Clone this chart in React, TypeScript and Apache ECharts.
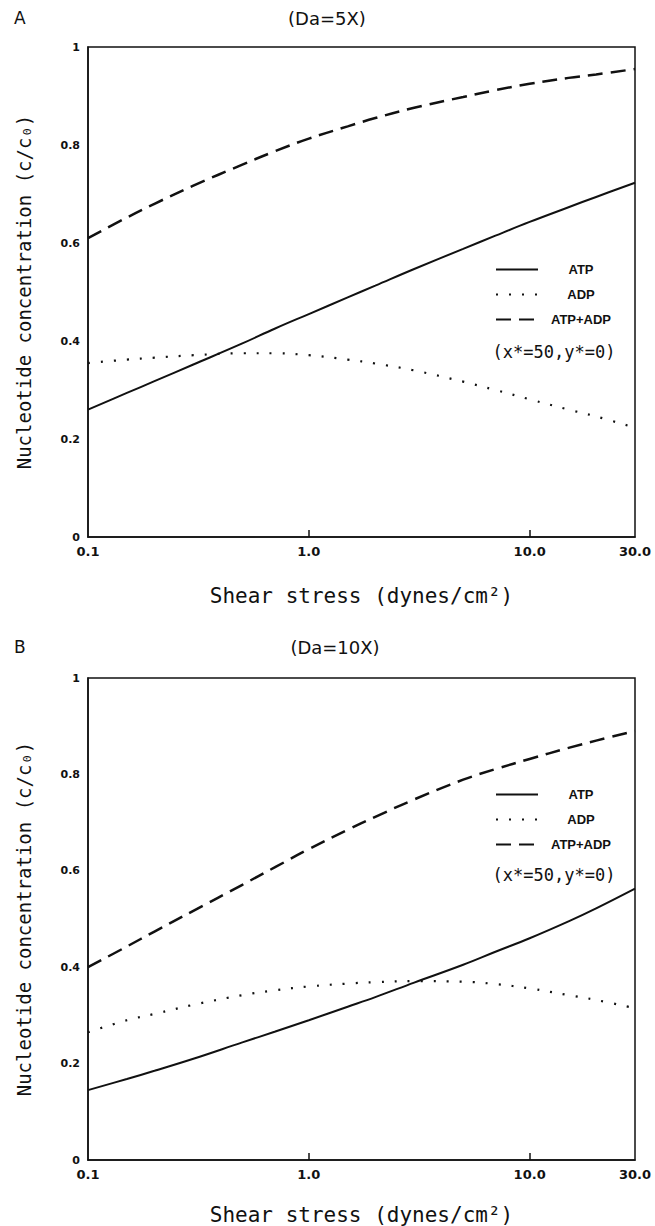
import React, { useEffect, useRef } from "react";
import * as echarts from "echarts";

const stress = [0.1, 0.15, 0.2, 0.3, 0.5, 0.7, 1, 1.5, 2, 3, 5, 7, 10, 15, 20, 30];

const atpA = [0.26, 0.294, 0.318, 0.352, 0.395, 0.425, 0.455, 0.489, 0.513, 0.547, 0.588, 0.615, 0.643, 0.673, 0.694, 0.723];
const adpA = [0.355, 0.362, 0.366, 0.371, 0.375, 0.375, 0.371, 0.362, 0.354, 0.34, 0.317, 0.3, 0.281, 0.26, 0.246, 0.223];
const sumA = [0.61, 0.652, 0.68, 0.717, 0.76, 0.787, 0.813, 0.838, 0.855, 0.876, 0.898, 0.912, 0.925, 0.937, 0.944, 0.955];

const atpB = [0.145, 0.168, 0.185, 0.21, 0.244, 0.266, 0.29, 0.318, 0.338, 0.368, 0.405, 0.432, 0.46, 0.495, 0.522, 0.563];
const adpB = [0.265, 0.29, 0.303, 0.322, 0.342, 0.352, 0.36, 0.366, 0.369, 0.371, 0.37, 0.365, 0.356, 0.342, 0.332, 0.315];
const sumB = [0.4, 0.443, 0.474, 0.517, 0.571, 0.607, 0.645, 0.685, 0.712, 0.748, 0.789, 0.811, 0.832, 0.855, 0.87, 0.89];

const xLabelValues = [0.1, 1, 10, 30];
const xTickValues = [1, 10];
const seriesNames = ["ATP", "ADP", "ATP+ADP"];
const panelTitles = ["(Da=5X)", "(Da=10X)"];
const panelLetters = ["A", "B"];
const xName = "Shear stress (dynes/cm²)";
const yName = "Nucleotide concentration (c/c₀)";
const note = "(x*=50,y*=0)";

const INK = "#111";
const FONT = "'DejaVu Sans', 'Liberation Sans', sans-serif";
const MONO = "'DejaVu Sans Mono', monospace";
const NARROW = "'Liberation Sans Narrow', 'Liberation Sans', sans-serif";

const lineStyles: any[] = [
  { type: "solid", width: 2 },
  { type: [2, 11], width: 2.2, cap: "butt" },
  { type: [15, 8], width: 2.5 },
];

export default function App() {
  const ref = useRef<HTMLDivElement>(null);
  useEffect(() => {
    document.body.style.margin = "0";
    const chart = echarts.init(ref.current!, null, { renderer: "svg" });
    const grids = [
      { left: 88, right: 20, top: 47, height: 490 },
      { left: 88, right: 20, top: 678, height: 483 },
    ];
    const xAxis = grids.map((_, i) => ({
      type: "log",
      logBase: 10,
      min: 0.1,
      max: 30,
      gridIndex: i,
      name: xName,
      nameLocation: "middle",
      nameGap: i === 0 ? 48 : 44,
      nameTextStyle: { fontFamily: MONO, fontSize: 21, color: INK },
      axisLine: { show: true, lineStyle: { color: INK, width: 1.5 } },
      axisTick: { show: true, inside: true, length: 7, customValues: xTickValues, lineStyle: { color: INK, width: 1.5 } },
      minorTick: { show: false },
      splitLine: { show: false },
      axisLabel: {
        customValues: xLabelValues,
        formatter: (v: number) => (v < 0.5 ? "0.1" : Number(v).toFixed(1)),
        color: INK,
        fontFamily: FONT,
        fontWeight: "bold",
        fontSize: 13,
        margin: 8,
      },
    }));
    const yAxis = grids.map((_, i) => ({
      type: "value",
      min: 0,
      max: 1,
      interval: 0.2,
      gridIndex: i,
      name: yName,
      nameLocation: "middle",
      nameGap: 55,
      nameRotate: 90,
      nameTextStyle: { fontFamily: MONO, fontSize: 19, color: INK },
      axisLine: { show: true, lineStyle: { color: INK, width: 1.5 } },
      axisTick: { show: false },
      splitLine: { show: false },
      axisLabel: {
        formatter: (v: number) => (v === 0 ? "0" : v === 1 ? "1" : v.toFixed(1)),
        color: INK,
        fontFamily: FONT,
        fontWeight: "bold",
        fontSize: 11,
        margin: 8,
      },
    }));
    const panels = [
      [atpA, adpA, sumA],
      [atpB, adpB, sumB],
    ];
    const series: any[] = [];
    panels.forEach((vals, p) => {
      vals.forEach((arr, k) => {
        series.push({
          type: "line",
          name: seriesNames[k],
          xAxisIndex: p,
          yAxisIndex: p,
          smooth: 0.4,
          symbol: "none",
          data: stress.map((x, j) => [x, arr[j]]),
          lineStyle: { color: INK, ...lineStyles[k] },
          itemStyle: { color: INK },
        });
      });
    });
    const legendTops = [263, 788];
    const legend = legendTops.map((top) => ({
      data: seriesNames,
      orient: "vertical",
      left: 495,
      top,
      padding: 0,
      itemWidth: 42,
      itemHeight: 12,
      itemGap: 12,
      selectedMode: false,
      itemStyle: { opacity: 0 },
      formatter: (name: string) => `{c|${name}}`,
      textStyle: {
        color: INK,
        rich: {
          c: { width: 76, align: "center", fontFamily: NARROW, fontWeight: "bold", fontSize: 13, color: INK },
        },
      },
    }));
    const titleYs = [18, 647];
    const noteYs = [352, 875];
    const graphic: any[] = [];
    titleYs.forEach((y, i) => {
      graphic.push({ type: "text", left: 14, top: y - 9, style: { text: panelLetters[i], fill: INK, font: `17px ${FONT}` } });
      graphic.push({ type: "text", x: i === 0 ? 327 : 335, y, style: { text: panelTitles[i], fill: INK, font: `18px ${FONT}`, align: "center", verticalAlign: "middle" } });
      graphic.push({ type: "text", x: 554, y: noteYs[i], style: { text: note, fill: INK, font: `17px ${MONO}`, align: "center", verticalAlign: "middle" } });
    });
    chart.setOption({
      animation: false,
      backgroundColor: "#fff",
      grid: grids.map((g) => ({ ...g, show: true, borderColor: INK, borderWidth: 1.5, backgroundColor: "transparent" })),
      xAxis,
      yAxis,
      series,
      legend,
      graphic,
    });
    return () => chart.dispose();
  }, []);
  return <div ref={ref} style={{ width: 655, height: 1226 }} />;
}
